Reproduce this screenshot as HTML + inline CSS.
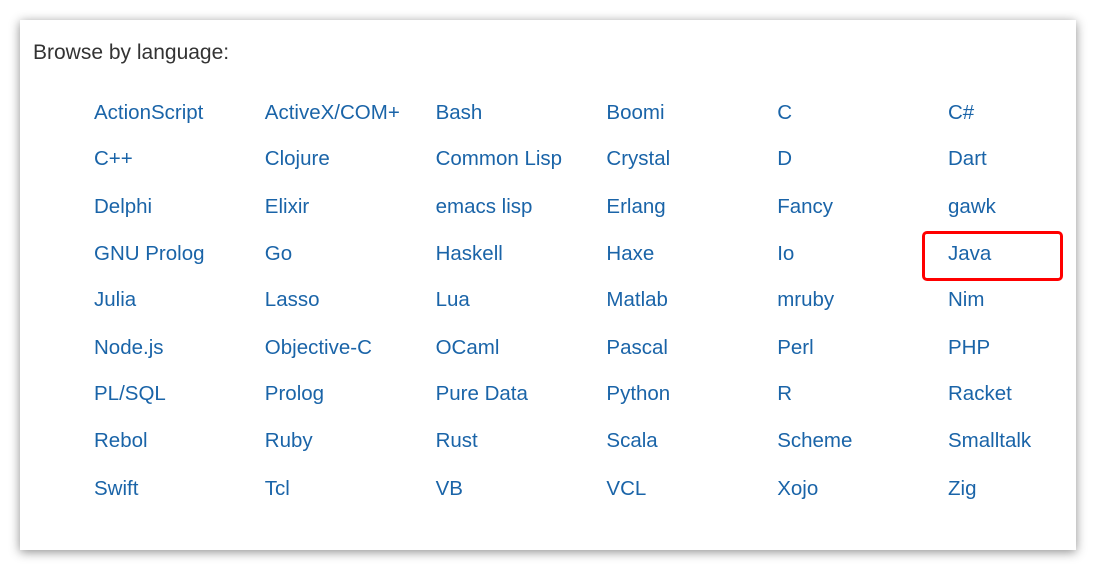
<!DOCTYPE html>
<html><head><meta charset="utf-8"><style>
body{margin:0;width:1097px;height:578px;background:#fff;position:relative;overflow:hidden;font-family:"Liberation Sans",sans-serif}
#card{position:absolute;left:20px;top:20px;width:1056px;height:530px;background:#fff;box-shadow:0 2px 10px rgba(0,0,0,.45)}
#title{position:absolute;left:13px;top:21px;font-size:21px;color:#333}
.l{position:absolute;font-size:20.5px;color:#1a64a8;text-decoration:none;line-height:24px}
#hl{position:absolute;left:902px;top:211px;width:135px;height:44px;border:3px solid #f00;border-radius:5px}
</style></head><body>
<div id="card">
<div id="title">Browse by language:</div>
<div id="hl"></div>
</div>
<script>
const langs=["ActionScript","ActiveX/COM+","Bash","Boomi","C","C#","C++","Clojure","Common Lisp","Crystal","D","Dart","Delphi","Elixir","emacs lisp","Erlang","Fancy","gawk","GNU Prolog","Go","Haskell","Haxe","Io","Java","Julia","Lasso","Lua","Matlab","mruby","Nim","Node.js","Objective-C","OCaml","Pascal","Perl","PHP","PL/SQL","Prolog","Pure Data","Python","R","Racket","Rebol","Ruby","Rust","Scala","Scheme","Smalltalk","Swift","Tcl","VB","VCL","Xojo","Zig"];
const card=document.getElementById('card');
const rowsY=[93,139,187,234,280,328,374,421,469];
langs.forEach((t,i)=>{const a=document.createElement('a');a.className='l';a.href='#';a.textContent=t;
a.style.left=(74+(i%6)*170.8)+'px';a.style.top=(rowsY[Math.floor(i/6)]-12)+'px';


card.appendChild(a);});
</script>
</body></html>
